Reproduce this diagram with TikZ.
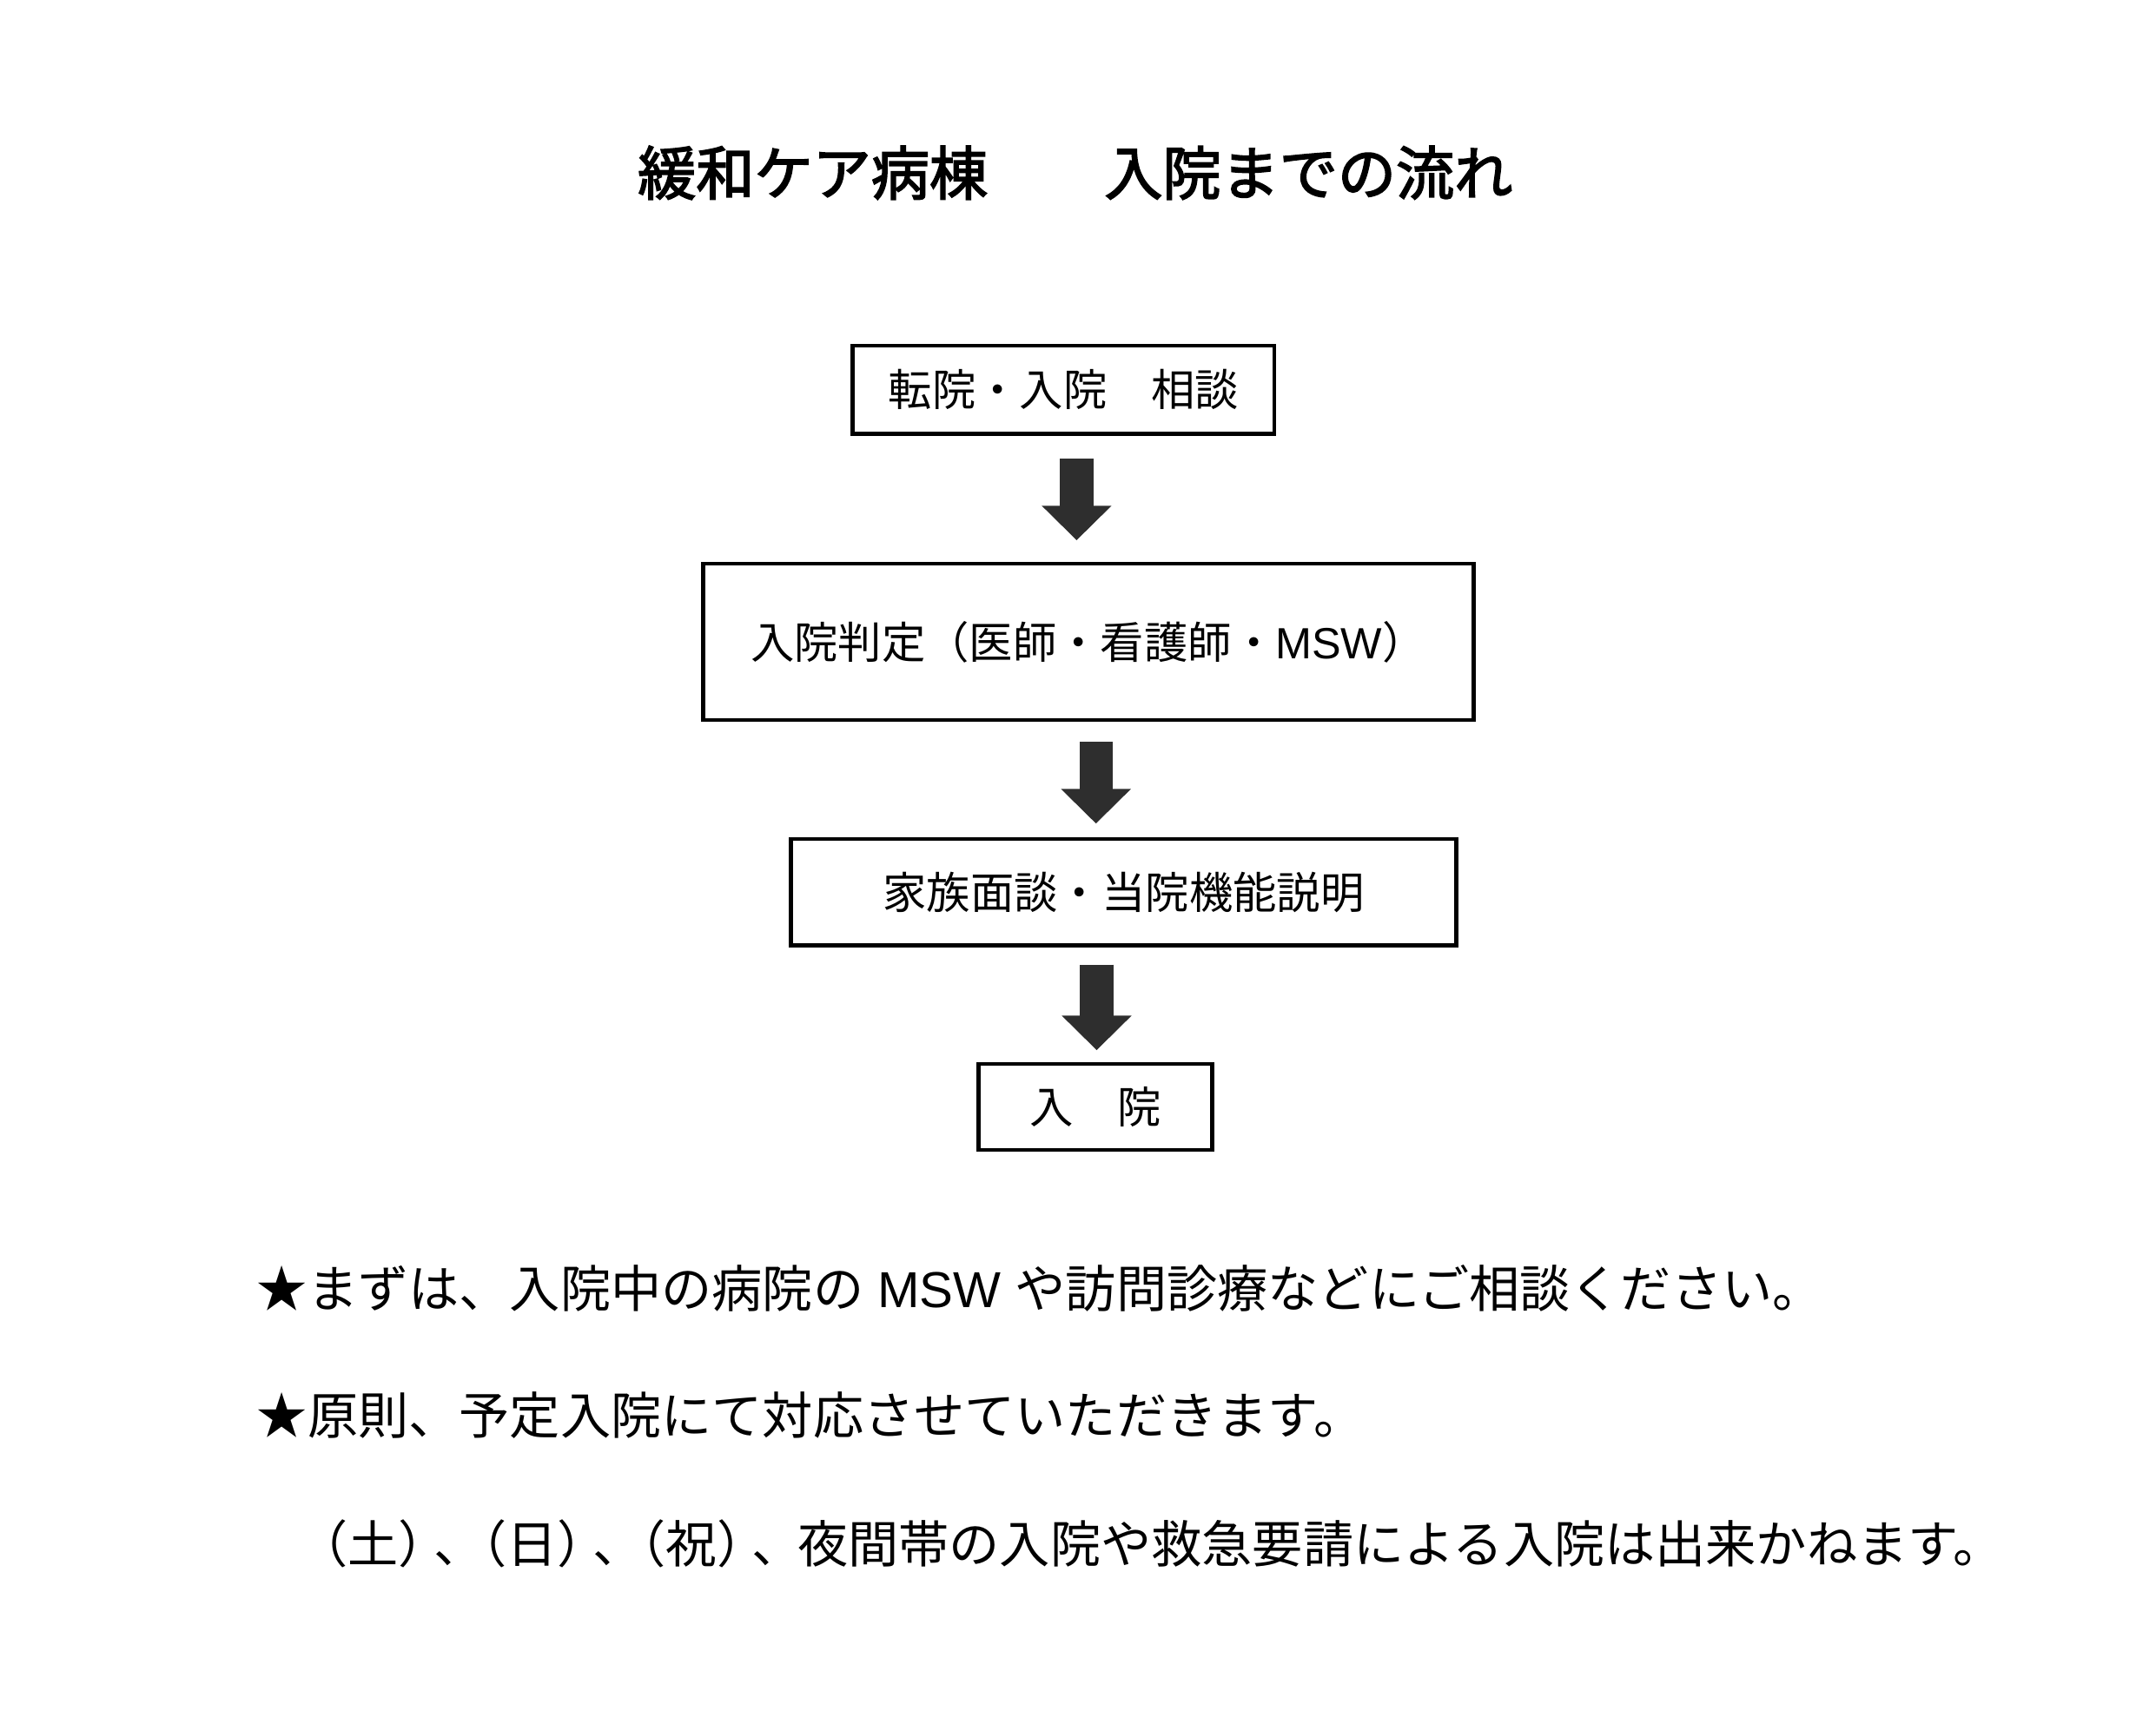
\documentclass[tikz,border=0pt]{standalone}
\usepackage{fontspec}
\setmainfont{Noto Sans CJK JP}
\newfontfamily\titlefont[BoldFont={Noto Sans CJK JP},BoldFeatures={FakeBold=2.5}]{Noto Sans CJK JP}
\newfontfamily\latinfont{Liberation Sans}
\newcommand{\pk}[1]{\kern-#1em}
\usetikzlibrary{arrows.meta,calc}
\begin{document}
\begin{tikzpicture}[x=0.01cm,y=-0.01cm,inner sep=0pt,outer sep=0pt,
flowbox/.style={draw,rectangle,line width=0.8pt,font=\fontsize{9}{11}\selectfont},
bigarrow/.style={line width=0.24cm,color=black!82,-{Triangle[width=0.49cm,length=0.25cm]}},
note/.style={anchor=west,font=\fontsize{10.4}{12}\selectfont}]
\useasboundingbox (0,0) rectangle (1560,1247);
\draw (778,125) node[font=\fontsize{12}{14}\selectfont\titlefont\bfseries] (title) {緩和ケア病棟　　入院までの流れ};

\draw (769.5,282) node[flowbox,minimum width=3.05cm,minimum height=0.64cm] (consult) {転院・入院　相談};
\draw (787.5,464.5) node[flowbox,minimum width=5.57cm,minimum height=1.13cm] (judge) {入院判定（医師・看護師・{\latinfont MSW}）};
\draw (813,645.5) node[flowbox,minimum width=4.81cm,minimum height=0.77cm] (family) {家族面談・当院機能説明};
\draw (792.5,801) node[flowbox,minimum width=1.69cm,minimum height=0.62cm] (admit) {入　院};

\draw[bigarrow] ($(consult.south)+(9.5,18)$) -- ($(judge.north)+(-8.5,-17)$);
\draw[bigarrow] ($(judge.south)+(5.5,16)$) -- ($(family.north)+(-20,-11)$);
\draw[bigarrow] ($(family.south)+(-19.5,14)$) -- ($(admit.north)+(1,-10)$);

\draw (186,932) node[note] (first) {★まずは、入院中の病院の{\latinfont\ MSW }や訪問診療などにご相談ください。};
\draw (186,1024) node[note] (rule) {★原則、予定入院にて対応させていただきます。};
\draw (215,1117) node[note] (holiday) {（土）\pk{.3}、\pk{.55}（日）\pk{.3}、\pk{.55}（祝）\pk{.3}、\pk{.1}夜間帯の入院や救急要請による入院は出来かねます。};
\end{tikzpicture}
\end{document}
